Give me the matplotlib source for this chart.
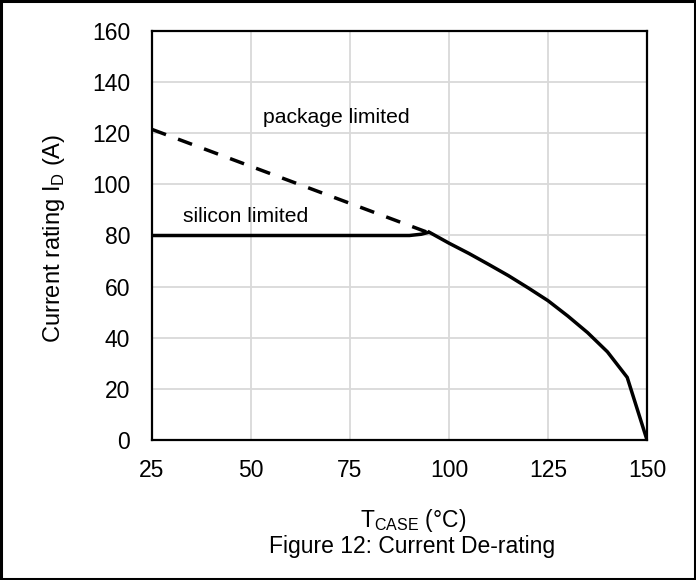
import matplotlib.pyplot as plt
from matplotlib.patches import Rectangle

plt.rcParams['font.family'] = ['Liberation Sans', 'DejaVu Sans']

### Data
pkg_temp = [25, 95]
pkg_current = [121.5, 81]

si_flat_temp = [25, 90, 93, 95]
si_flat_current = [80, 80, 80.5, 81.3]

derate_temp = [95, 100, 105, 110, 115, 120, 125, 130, 135, 140, 145, 150]
derate_current = [81.3, 77, 73, 68.7, 64.3, 59.5, 54.5, 48.5, 42, 34.5, 24.5, 0]

x_ticks = [25, 50, 75, 100, 125, 150]
y_ticks = [0, 20, 40, 60, 80, 100, 120, 140, 160]

fig = plt.figure(figsize=(6.96, 5.80), dpi=100)
ax = fig.add_axes([152 / 696, 1 - 440 / 580, (647 - 152) / 696, (440 - 31) / 580])

### Lines
ax.plot(pkg_temp, pkg_current, color='black', lw=2.5, linestyle=(0, (4.3, 3.7)))
ax.plot(si_flat_temp, si_flat_current, color='black', lw=2.5, solid_capstyle='butt')
ax.plot(derate_temp, derate_current, color='black', lw=2.5, solid_joinstyle='round')

### Labels on the plot
ax.text(53, 126, 'package limited', fontsize=15.2, va='center')
ax.text(32.8, 87.6, 'silicon limited', fontsize=15.2, va='center')

### Axes styling
ax.set_xlim(25, 150)
ax.set_ylim(0, 160)
ax.set_xticks(x_ticks)
ax.set_yticks(y_ticks)
ax.grid(True, color='#d9d9d9', lw=1.3)
ax.set_axisbelow(True)
ax.tick_params(length=0, labelsize=16.5)
ax.tick_params(axis='y', pad=15.8)
ax.tick_params(axis='x', pad=13.7)
for s in ax.spines.values():
    s.set_linewidth(1.6)
    s.set_color('black')

fig.text(54 / 696, 1 - 238 / 580, 'Current rating I$_\\mathregular{D}$ (A)', fontsize=17,
         rotation=90, ha='center', va='center')
fig.text(413 / 696, 1 - 521 / 580, 'T$_\\mathregular{CASE}$ (°C)', fontsize=16.5,
         ha='center', va='center')
fig.text(412 / 696, 1 - 547 / 580, 'Figure 12: Current De-rating', fontsize=16.5,
         ha='center', va='center')

### Figure border
fig.patches.append(Rectangle((0.002, 0.002), 0.996, 0.996, transform=fig.transFigure,
                             fill=False, edgecolor='black', lw=2.2))

fig.savefig('out.png', dpi=100)
